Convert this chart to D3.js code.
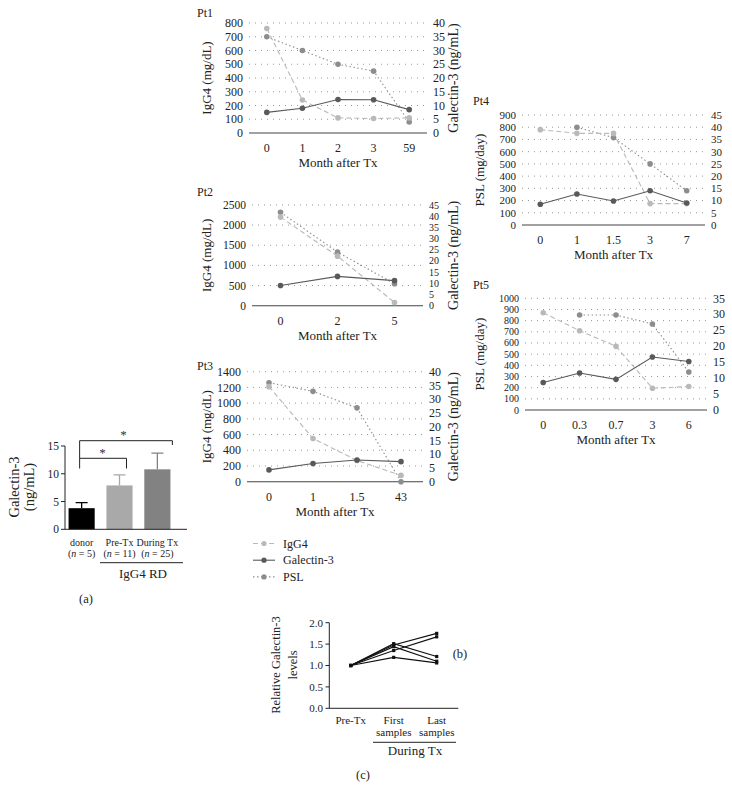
<!DOCTYPE html>
<html><head><meta charset="utf-8">
<script src="https://cdn.jsdelivr.net/npm/d3@7"></script>
<style>
body{margin:0;background:#fff;}
svg{display:block;font-family:"Liberation Serif","DejaVu Serif",serif;}
</style></head>
<body><svg id="c" width="732" height="802"></svg>
<script>
// ---------- data ----------
// Panel (a)
const aCategories = ["donor","Pre-Tx","During Tx"];
const aLabelsN = ["(n = 5)","(n = 11)","(n = 25)"];
const aMeans = [3.8, 7.9, 10.8];
const aErrors = [4.8, 9.8, 13.7];
const aTicks = [0,5,10,15];

// Panel (b) patients
const pt1Months = ["0","1","2","3","59"];
const pt1IgG4 = [760, 240, 110, 105, 110];
const pt1Gal = [7.5, 9.0, 12.2, 12.1, 8.5];
const pt1PSL = [700, 600, 500, 450, 80];

const pt2Months = ["0","2","5"];
const pt2IgG4 = [2200, 1230, 80];
const pt2Gal = [9.0, 13.1, 11.2];
const pt2PSL = [2320, 1330, 545];

const pt3Months = ["0","1","1.5","43"];
const pt3IgG4 = [1210, 550, 270, 80];
const pt3Gal = [4.3, 6.6, 7.9, 7.3];
const pt3PSL = [1260, 1150, 940, 0];

const pt4Months = ["0","1","1.5","3","7"];
const pt4IgG4 = [780, 750, 750, 175, 175];
const pt4Gal = [8.5, 12.7, 9.8, 14.0, 9.0];
const pt4PSL = [null, 800, 715, 500, 280];

const pt5Months = ["0","0.3","0.7","3","6"];
const pt5IgG4 = [870, 710, 570, 195, 210];
const pt5Gal = [8.6, 11.6, 9.6, 16.6, 15.2];
const pt5PSL = [null, 850, 850, 770, 340];

const legendLabels = ["IgG4","Galectin-3","PSL"];

// Panel (c)
const cCategories = ["Pre-Tx","First","Last"];
const cSeries = [
  [1.0, 1.51, 1.21],
  [1.0, 1.48, 1.75],
  [1.0, 1.35, 1.67],
  [1.0, 1.44, 1.10],
  [1.0, 1.19, 1.06]
];
const cTicks = [0,0.5,1.0,1.5,2.0];

// ---------- drawing ----------
const svg = d3.select("#c");
const colIgG4 = "#b9b9b9", colPSL = "#8d8d8d", colGal = "#595959";

function patient(cfg){
  const g = svg.append("g");
  const x = d3.scalePoint().domain(cfg.months).range(cfg.xr).padding(0.5);
  const yL = d3.scaleLinear().domain([0,cfg.lMax]).range(cfg.yr);
  const yR = d3.scaleLinear().domain([0,cfg.rMax]).range(cfg.yr);
  const lt = d3.range(0,cfg.lMax+1e-9,cfg.lStep);
  const rt = d3.range(0,cfg.rMax+1e-9,cfg.rStep);
  g.selectAll(".gl").data(lt.filter(d=>d>0)).join("line")
    .attr("x1",cfg.xr[0]).attr("x2",cfg.xr[1])
    .attr("y1",d=>yL(d)).attr("y2",d=>yL(d))
    .attr("stroke","#999").attr("stroke-width",1).attr("stroke-dasharray","1,5");
  g.append("line").attr("x1",cfg.xr[0]).attr("x2",cfg.xr[1])
    .attr("y1",yL(0)).attr("y2",yL(0)).attr("stroke","#444").attr("stroke-width",1.1);
  g.selectAll(".lt").data(lt).join("text")
    .attr("x",cfg.xr[0]-6).attr("y",d=>yL(d)).attr("dy","0.35em")
    .attr("text-anchor","end").attr("font-size",cfg.lfs).attr("fill","#222").text(d=>d);
  g.selectAll(".rt").data(rt).join("text")
    .attr("x",cfg.xr[1]+6).attr("y",d=>yR(d)).attr("dy","0.35em")
    .attr("text-anchor","start").attr("font-size",cfg.rfs).attr("fill","#222").text(d=>d);
  g.selectAll(".xt").data(cfg.months).join("text")
    .attr("x",d=>x(d)).attr("y",yL(0)+15).attr("dy","0.35em")
    .attr("text-anchor","middle").attr("font-size",12).attr("fill","#222").text(d=>d);
  g.append("text").attr("x",(cfg.xr[0]+cfg.xr[1])/2).attr("y",yL(0)+34)
    .attr("text-anchor","middle").attr("font-size",13).attr("fill","#222").text("Month after Tx");
  g.append("text").attr("x",cfg.title[0]).attr("y",cfg.title[1]).attr("font-size",12)
    .attr("fill","#222").text(cfg.name);
  const cy = (cfg.yr[0]+cfg.yr[1])/2;
  g.append("text").attr("transform",`translate(${cfg.lx},${cy}) rotate(-90)`)
    .attr("text-anchor","middle").attr("font-size",13).attr("fill","#222").text(cfg.lLabel);
  if(cfg.rLabel) g.append("text").attr("transform",`translate(${cfg.rx},${cy}) rotate(-90)`)
    .attr("text-anchor","middle").attr("font-size",14).attr("fill","#222").text(cfg.rLabel);

  const series = [
    {v:cfg.psl, y:yL, c:colPSL, dash:"1.5,2.5"},
    {v:cfg.igg, y:yL, c:colIgG4, dash:"5,3"},
    {v:cfg.gal, y:yR, c:colGal, dash:null}
  ];
  series.forEach(s=>{
    const pts = cfg.months.map((m,i)=>({m, v:s.v[i]})).filter(p=>p.v!=null);
    g.append("path").datum(pts)
      .attr("d",d3.line().x(p=>x(p.m)).y(p=>s.y(p.v)))
      .attr("fill","none").attr("stroke",s.c).attr("stroke-width",1.1)
      .attr("stroke-dasharray",s.dash);
    g.selectAll(null).data(pts).join("circle")
      .attr("cx",p=>x(p.m)).attr("cy",p=>s.y(p.v)).attr("r",2.8).attr("fill",s.c);
  });
}

patient({name:"Pt1",months:pt1Months,igg:pt1IgG4,gal:pt1Gal,psl:pt1PSL,xr:[249,427],yr:[133,23],
  lMax:800,lStep:100,rMax:40,rStep:5,lfs:12,rfs:12,title:[197,17],lx:211,rx:458,lLabel:"IgG4 (mg/dL)",rLabel:"Galectin-3 (ng/mL)"});
patient({name:"Pt2",months:pt2Months,igg:pt2IgG4,gal:pt2Gal,psl:pt2PSL,xr:[252,423],yr:[305.7,205],
  lMax:2500,lStep:500,rMax:45,rStep:5,lfs:11.5,rfs:10,title:[197,196],lx:211,rx:458,lLabel:"IgG4 (mg/dL)",rLabel:"Galectin-3 (ng/mL)"});
patient({name:"Pt3",months:pt3Months,igg:pt3IgG4,gal:pt3Gal,psl:pt3PSL,xr:[247,423],yr:[481.7,371.7],
  lMax:1400,lStep:200,rMax:40,rStep:5,lfs:12,rfs:12,title:[197,370],lx:211,rx:458,lLabel:"IgG4 (mg/dL)",rLabel:"Galectin-3 (ng/mL)"});
patient({name:"Pt4",months:pt4Months,igg:pt4IgG4,gal:pt4Gal,psl:pt4PSL,xr:[522,705],yr:[225,115],
  lMax:900,lStep:100,rMax:45,rStep:5,lfs:11,rfs:11,title:[473,105],lx:484,rx:null,lLabel:"PSL (mg/day)",rLabel:null});
patient({name:"Pt5",months:pt5Months,igg:pt5IgG4,gal:pt5Gal,psl:pt5PSL,xr:[525,707],yr:[410,298.3],
  lMax:1000,lStep:100,rMax:35,rStep:5,lfs:10,rfs:12,title:[473,289],lx:484,rx:null,lLabel:"PSL (mg/day)",rLabel:null});

// legend
const legCols = [colIgG4, colGal, colPSL];
const legDash = ["5,3", null, "1.5,2.5"];
legendLabels.forEach((t,i)=>{
  const y = 543.5 + i*16.7;
  svg.append("line").attr("x1",253).attr("x2",275).attr("y1",y).attr("y2",y)
    .attr("stroke",legCols[i]).attr("stroke-width",1.1).attr("stroke-dasharray",legDash[i]);
  svg.append("circle").attr("cx",264).attr("cy",y).attr("r",2.6).attr("fill",legCols[i]);
  svg.append("text").attr("x",283).attr("y",y).attr("dy","0.35em").attr("font-size",12)
    .attr("fill","#222").text(t);
});
svg.append("text").attr("x",460).attr("y",658).attr("text-anchor","middle").attr("font-size",12.5).attr("fill","#222").text("(b)");

// ---------- Panel (a) ----------
{
  const g = svg.append("g");
  const x = d3.scaleBand().domain(aCategories).range([61,178]).paddingInner(0.31).paddingOuter(0.2);
  const y = d3.scaleLinear().domain([0,15]).range([529.3,446]);
  const fills = ["#000","#a9a9a9","#828282"];
  g.selectAll(".bar").data(aMeans).join("rect")
    .attr("x",(d,i)=>x(aCategories[i])).attr("width",x.bandwidth())
    .attr("y",d=>y(d)).attr("height",d=>y(0)-y(d)).attr("fill",(d,i)=>fills[i]);
  g.selectAll(".eb").data(aErrors).join("path")
    .attr("d",(d,i)=>{const cx=x(aCategories[i])+x.bandwidth()/2;
      return `M${cx},${y(aMeans[i])}V${y(d)}M${cx-6},${y(d)}H${cx+6}`;})
    .attr("stroke",(d,i)=>i==0?"#000":fills[i]).attr("stroke-width",1.3).attr("fill","none");
  g.append("line").attr("x1",65).attr("x2",187).attr("y1",y(0)).attr("y2",y(0)).attr("stroke","#222");
  g.append("line").attr("x1",65).attr("x2",65).attr("y1",y(0)).attr("y2",y(15)).attr("stroke","#222");
  g.selectAll(".tk").data(aTicks).join("line").attr("x1",61).attr("x2",65)
    .attr("y1",d=>y(d)).attr("y2",d=>y(d)).attr("stroke","#222");
  g.selectAll(".tl").data(aTicks).join("text").attr("x",59).attr("y",d=>y(d)).attr("dy","0.35em")
    .attr("text-anchor","end").attr("font-size",11.5).attr("fill","#222").text(d=>d);
  g.append("text").attr("transform","translate(19,487) rotate(-90)").attr("text-anchor","middle")
    .attr("font-size",14.5).attr("fill","#222").text("Galectin-3");
  g.append("text").attr("transform","translate(34,487) rotate(-90)").attr("text-anchor","middle")
    .attr("font-size",14.5).attr("fill","#222").text("(ng/mL)");
  aCategories.forEach((c,i)=>{
    const cx = x(c)+x.bandwidth()/2;
    g.append("text").attr("x",cx).attr("y",546).attr("text-anchor","middle").attr("font-size",10).attr("fill","#222").text(c);
    const t = g.append("text").attr("x",cx).attr("y",557).attr("text-anchor","middle").attr("font-size",10).attr("fill","#222");
    const parts = aLabelsN[i].split("n");
    t.append("tspan").text(parts[0]);
    t.append("tspan").attr("font-style","italic").text("n");
    t.append("tspan").text(parts[1]);
  });
  g.append("line").attr("x1",100).attr("x2",183).attr("y1",562.7).attr("y2",562.7).attr("stroke","#222");
  g.append("text").attr("x",143).attr("y",578).attr("text-anchor","middle").attr("font-size",13).attr("fill","#222").text("IgG4 RD");
  const c0 = x(aCategories[0])+x.bandwidth()/2, c1 = x(aCategories[1])+x.bandwidth()/2, c2 = x(aCategories[2])+x.bandwidth()/2;
  g.append("path").attr("d",`M${c0-2},468.5V458.3H${c1+7}V468.5`).attr("fill","none").attr("stroke","#222");
  g.append("path").attr("d",`M${c0-2},458.3V440.7H${c2+15}V445`).attr("fill","none").attr("stroke","#222");
  g.append("text").attr("x",(c0+c1)/2+2).attr("y",457).attr("text-anchor","middle").attr("font-size",13).attr("fill","#333").text("*");
  g.append("text").attr("x",(c0+c2)/2+4).attr("y",439).attr("text-anchor","middle").attr("font-size",13).attr("fill","#333").text("*");
  svg.append("text").attr("x",86).attr("y",603).attr("text-anchor","middle").attr("font-size",12.5).attr("fill","#222").text("(a)");
}

// ---------- Panel (c) ----------
{
  const g = svg.append("g");
  const x = d3.scalePoint().domain(cCategories).range([350.7,436.7]);
  const y = d3.scaleLinear().domain([0,2]).range([708.3,622.7]);
  g.append("line").attr("x1",329.3).attr("x2",458.3).attr("y1",y(0)).attr("y2",y(0)).attr("stroke","#222");
  g.append("line").attr("x1",329.3).attr("x2",329.3).attr("y1",y(0)).attr("y2",y(2)).attr("stroke","#222");
  g.selectAll(".tk").data(cTicks).join("line").attr("x1",325.5).attr("x2",329.3)
    .attr("y1",d=>y(d)).attr("y2",d=>y(d)).attr("stroke","#222");
  g.selectAll(".tl").data(cTicks).join("text").attr("x",323).attr("y",d=>y(d)).attr("dy","0.35em")
    .attr("text-anchor","end").attr("font-size",11).attr("fill","#222").text(d=>d.toFixed(1));
  cSeries.forEach(s=>{
    g.append("path").datum(s).attr("d",d3.line().x((d,i)=>x(cCategories[i])).y(d=>y(d)))
      .attr("fill","none").attr("stroke","#111").attr("stroke-width",1.2);
    g.selectAll(null).data(s).join("rect").attr("x",(d,i)=>x(cCategories[i])-1.6).attr("y",d=>y(d)-1.6)
      .attr("width",3.2).attr("height",3.2).attr("fill","#111");
  });
  g.append("text").attr("transform","translate(280,665) rotate(-90)").attr("text-anchor","middle")
    .attr("font-size",12.5).attr("fill","#222").text("Relative Galectin-3");
  g.append("text").attr("transform","translate(297,665) rotate(-90)").attr("text-anchor","middle")
    .attr("font-size",12.5).attr("fill","#222").text("levels");
  const xl = [["Pre-Tx"],["First","samples"],["Last","samples"]];
  xl.forEach((lines,i)=>{
    lines.forEach((t,j)=>{
      g.append("text").attr("x",x(cCategories[i])).attr("y",724+j*11.5).attr("text-anchor","middle")
        .attr("font-size",11).attr("fill","#222").text(t);
    });
  });
  g.append("line").attr("x1",373).attr("x2",456).attr("y1",742.3).attr("y2",742.3).attr("stroke","#222");
  g.append("text").attr("x",415).attr("y",755).attr("text-anchor","middle").attr("font-size",13).attr("fill","#222").text("During Tx");
  svg.append("text").attr("x",363).attr("y",779).attr("text-anchor","middle").attr("font-size",12.5).attr("fill","#222").text("(c)");
}
</script></body></html>
